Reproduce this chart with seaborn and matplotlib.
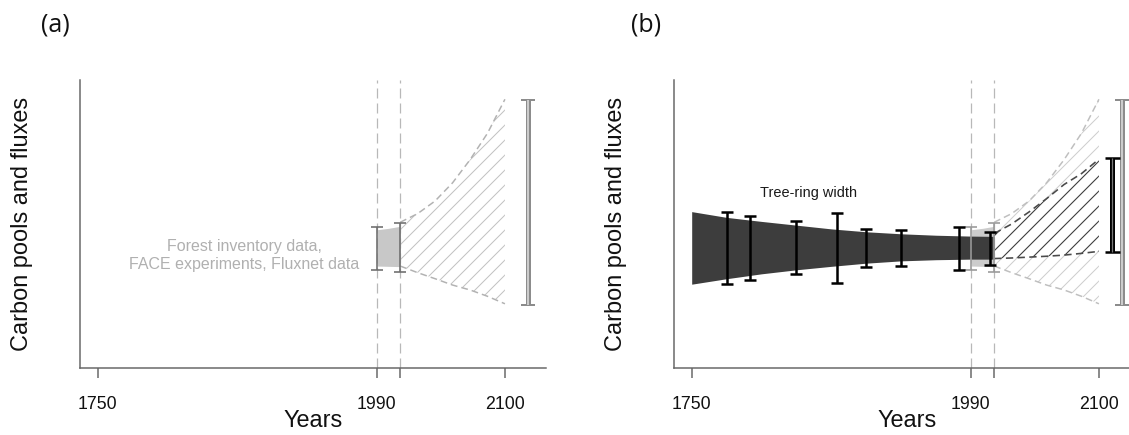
import matplotlib
matplotlib.use("Agg")
import matplotlib.pyplot as plt
import numpy as np
import seaborn as sns

# ---- values (y is an arbitrary 0-100 scale) ----
tick_years = [1750, 1990, 2010, 2100]
tick_labels = ["1750", "1990", "", "2100"]
obs_years = [1990, 2010]

# observation band (forest inventory / FACE / Fluxnet)
band_years = [1990, 2000, 2010]
band_hi = [48.0, 48.5, 49.2]
band_lo = [35.4, 35.3, 35.2]
obs_err_hi = [49.1, 50.5]
obs_err_lo = [34.0, 33.4]

# unconstrained projection envelope
proj_years = [2010, 2025, 2040, 2055, 2070, 2085, 2100]
proj_hi = [50.6, 53.6, 58.0, 64.3, 72.3, 81.5, 93.3]
proj_lo = [35.4, 33.1, 31.0, 28.8, 27.1, 24.9, 22.3]
proj_range_year = 2120
proj_range = [22.0, 93.2]

# projection constrained with tree rings
constr_hi = [46.7, 50.0, 54.2, 58.8, 63.7, 67.5, 72.5]
constr_lo = [38.0, 38.2, 38.5, 38.8, 39.2, 39.8, 40.5]
constr_range_year = 2111
constr_range = [40.3, 72.9]

# tree-ring width record
ring_years = [1750, 1780, 1810, 1840, 1870, 1900, 1930, 1960, 1990, 2010]
ring_hi = [54.3, 52.3, 50.9, 49.6, 48.3, 47.3, 46.6, 46.1, 45.8, 45.7]
ring_lo = [29.1, 31.0, 32.7, 34.1, 35.3, 36.4, 37.2, 37.6, 37.8, 37.8]
ring_err_years = [1780, 1800, 1840, 1875, 1900, 1930, 1980, 2006]
ring_err_hi = [54.2, 52.8, 51.0, 53.8, 48.1, 48.0, 49.1, 47.3]
ring_err_lo = [29.3, 30.4, 32.5, 29.6, 35.2, 35.4, 34.1, 35.9]

sns.set_style("white")
plt.rcParams["font.family"] = ["Liberation Sans", "DejaVu Sans"]
plt.rcParams["hatch.linewidth"] = 0.8

DPI = 90
W, H = 1129, 435
fig = plt.figure(figsize=(W / DPI, H / DPI), dpi=DPI)
ax_a = fig.add_axes([80 / W, 67 / H, 466 / W, 288 / H])
ax_b = fig.add_axes([674 / W, 67 / H, 466 / W, 288 / H])


def bar(ax, x, lo, hi, **kw):
    lo, hi = np.asarray(lo), np.asarray(hi)
    mid = (lo + hi) / 2
    ax.errorbar(x, mid, yerr=(hi - lo) / 2, fmt="none", **kw)


def style_axis(ax):
    ax.set_xlim(1734.8, 2135.3)
    ax.set_ylim(0, 100)
    for s in ["top", "right"]:
        ax.spines[s].set_visible(False)
    for s in ["left", "bottom"]:
        ax.spines[s].set_color("#666666")
        ax.spines[s].set_linewidth(1.2)
    ax.set_xticks(tick_years, tick_labels)
    ax.tick_params(axis="x", bottom=True, length=8, width=1.2, color="#666666",
                   pad=14.5, labelsize=14.2, labelcolor="#111111")
    ax.tick_params(axis="y", left=False, labelleft=False)
    ax.set_yticks([])
    ax.set_xlabel("Years", fontsize=18.8, color="#111111", labelpad=-2.5)
    ax.set_ylabel("Carbon pools and fluxes", fontsize=18.8, color="#111111")
    ax.yaxis.set_label_coords(-0.101, 0.5)
    for yr in obs_years:
        ax.axvline(yr, color="#b8b8b8", lw=1.0, linestyle=(0, (8, 4)), zorder=1)


def projection(ax, hatch_col, dash_col, band_col, err_col):
    ax.fill_between(band_years, band_lo, band_hi, color=band_col, lw=0, zorder=2)
    ax.fill_between(proj_years, proj_lo, proj_hi, facecolor="none",
                    edgecolor=hatch_col, hatch="//", lw=0, zorder=2)
    for ys in (proj_hi, proj_lo):
        sns.lineplot(x=proj_years, y=ys, ax=ax, color=dash_col, lw=1.2,
                     linestyle=(0, (4.5, 2.7)), zorder=3)
    bar(ax, obs_years, obs_err_lo, obs_err_hi, ecolor=err_col, elinewidth=1.3,
        capsize=4.6, capthick=1.3, zorder=4)
    bar(ax, [proj_range_year], [proj_range[0]], [proj_range[1]], ecolor="#8c8c8c",
        elinewidth=4.0, capsize=5.4, capthick=1.6, zorder=4)
    ax.vlines(proj_range_year, proj_range[0], proj_range[1], color="#d6d6d6",
              lw=1.4, zorder=5)


# ---- panel (a) ----
style_axis(ax_a)
projection(ax_a, "#c2c2c2", "#b2b2b2", "#c8c8c8", "#6e6e6e")
ax_a.text(1975, 38.9, "Forest inventory data,\nFACE experiments, Fluxnet data",
          ha="right", va="center", multialignment="center", color="#b0b0b0",
          fontsize=12.8, linespacing=1.25)

# ---- panel (b) ----
style_axis(ax_b)
projection(ax_b, "#cdcdcd", "#bfbfbf", "#cccccc", "#9a9a9a")
ax_b.fill_between(ring_years, ring_lo, ring_hi, color="#3d3d3d", lw=0, zorder=3)
ax_b.fill_between(proj_years, constr_lo, constr_hi, facecolor="none",
                  edgecolor="#3a3a3a", hatch="//", lw=0, zorder=3)
for ys in (constr_hi, constr_lo):
    sns.lineplot(x=proj_years, y=ys, ax=ax_b, color="#4a4a4a", lw=1.3,
                 linestyle=(0, (4.5, 2.7)), zorder=3)
bar(ax_b, ring_err_years, ring_err_lo, ring_err_hi, ecolor="black", elinewidth=2.0,
    capsize=5.0, capthick=2.0, zorder=6)
bar(ax_b, [constr_range_year], [constr_range[0]], [constr_range[1]], ecolor="black",
    elinewidth=4.0, capsize=6.0, capthick=2.0, zorder=6)
ax_b.vlines(constr_range_year, constr_range[0], constr_range[1], color="#777777",
            lw=1.0, zorder=7)
ax_b.text(1850.6, 60.8, "Tree-ring width", ha="center", va="center",
          fontsize=11.6, color="#1a1a1a")

fig.text(55 / W, 1 - 25 / H, "(a)", ha="center", va="center", fontsize=20,
         family="Open Sans", color="#111111")
fig.text(646 / W, 1 - 25 / H, "(b)", ha="center", va="center", fontsize=20,
         family="Open Sans", color="#111111")

fig.savefig("out.png", dpi=DPI)
